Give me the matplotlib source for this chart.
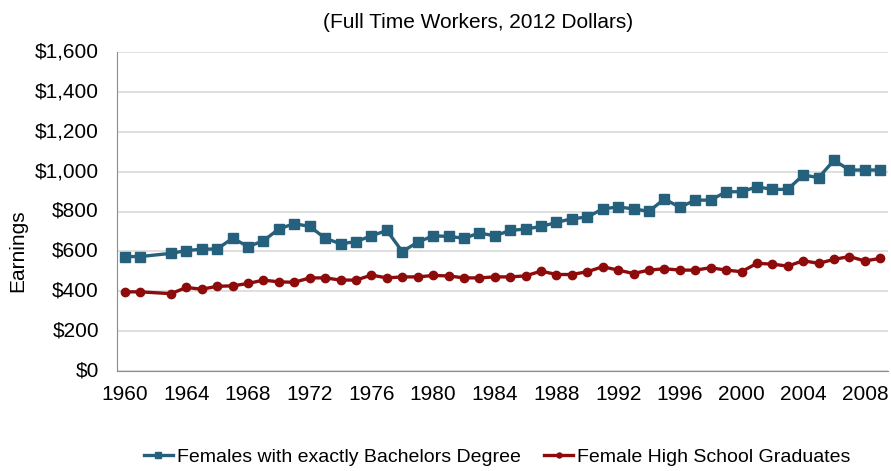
import matplotlib
matplotlib.use("Agg")
import matplotlib.pyplot as plt
from matplotlib.ticker import FuncFormatter

plt.rcParams['font.family'] = ['Liberation Sans', 'DejaVu Sans']

years = [1960, 1961, 1963, 1964, 1965, 1966, 1967, 1968, 1969, 1970, 1971, 1972,
         1973, 1974, 1975, 1976, 1977, 1978, 1979, 1980, 1981, 1982, 1983, 1984,
         1985, 1986, 1987, 1988, 1989, 1990, 1991, 1992, 1993, 1994, 1995, 1996,
         1997, 1998, 1999, 2000, 2001, 2002, 2003, 2004, 2005, 2006, 2007, 2008, 2009]

bachelors = [574, 574, 590, 604, 611, 612, 666, 624, 653, 713, 739, 725,
             666, 638, 649, 678, 705, 599, 646, 678, 675, 666, 692, 678,
             705, 712, 725, 745, 764, 772, 813, 823, 813, 801, 863, 821,
             857, 857, 899, 899, 924, 911, 911, 983, 970, 1057, 1008, 1008, 1008]

highschool = [397, 397, 388, 419, 410, 425, 427, 439, 456, 447, 445, 467,
              467, 456, 456, 481, 467, 472, 472, 479, 477, 467, 467, 472,
              472, 477, 501, 484, 484, 498, 523, 506, 489, 506, 513, 506,
              506, 518, 506, 498, 540, 536, 526, 553, 540, 560, 574, 552, 565]

tick_years = list(range(1960, 2009, 4))
y_ticks = list(range(0, 1601, 200))

W, H = 891, 471
fig = plt.figure(figsize=(W / 100, H / 100), dpi=100)
ax = fig.add_axes([117 / W, 1 - 371 / H, (888 - 117) / W, (371 - 52) / H])

blue = '#25607C'
red = '#8E0B0B'
ax.plot(years, bachelors, color=blue, lw=2.4, marker='s', ms=6.5,
        label='Females with exactly Bachelors Degree', zorder=3)
ax.plot(years, highschool, color=red, lw=2.4, marker='o', ms=6,
        label='Female High School Graduates', zorder=3)

ax.set_xlim(1959.5, 2009.5)
ax.set_ylim(0, 1600)
ax.set_xticks(tick_years)
ax.set_yticks(y_ticks)
ax.yaxis.set_major_formatter(FuncFormatter(lambda v, p: '${:,.0f}'.format(v)))
ax.grid(axis='y', color='#d9d9d9', lw=1.2)
ax.set_axisbelow(True)
for s in ['top', 'right']:
    ax.spines[s].set_visible(False)
ax.spines['left'].set_color('#8c8c8c')
ax.spines['bottom'].set_color('#8c8c8c')
ax.tick_params(axis='both', length=0, labelsize=15, colors='black')
ax.tick_params(axis='x', pad=10)
ax.tick_params(axis='y', pad=13)
for lbl in ax.get_yticklabels():
    lbl.set_va('center')

fig.text(478 / W, 1 - 22 / H, '(Full Time Workers, 2012 Dollars)', ha='center',
         va='center', fontsize=15)
fig.text(18 / W, 1 - 251 / H, 'Earnings', rotation=90, ha='center', va='center',
         fontsize=15)

fig.legend(loc='center', bbox_to_anchor=(497 / W, 1 - 457 / H), ncol=2,
           frameon=False, fontsize=14, handlelength=1.5, handletextpad=0.2,
           columnspacing=1.2, markerscale=0.6)

fig.savefig('out.png', dpi=100)
